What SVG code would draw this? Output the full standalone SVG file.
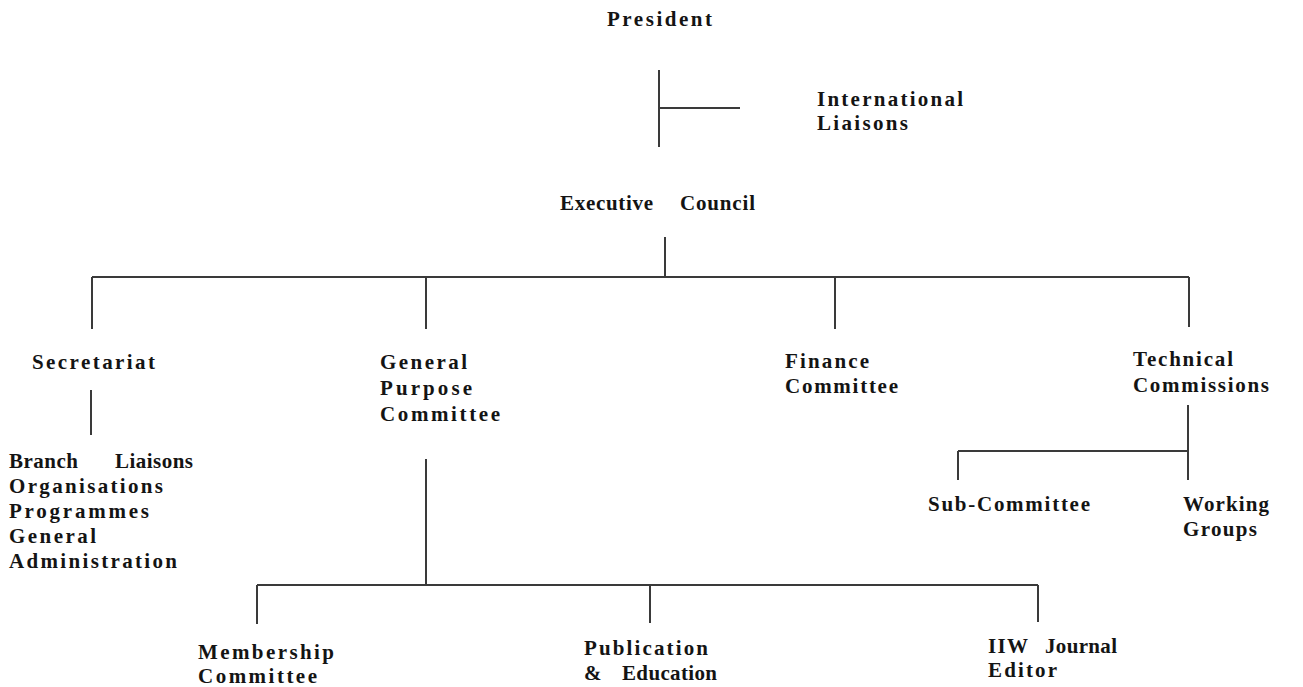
<svg xmlns="http://www.w3.org/2000/svg" width="1303" height="687" viewBox="0 0 1303 687">
<style>
text{font-family:'Liberation Serif','DejaVu Serif',serif;font-weight:700;font-size:21px;fill:#141414}
.b{font-size:21px}
#connectors line{stroke:#3a3a3a;stroke-width:2;fill:none}
</style>
<rect width="1303" height="687" fill="#ffffff"/>
<g id="connectors">
<line x1="659" y1="70" x2="659" y2="147"/>
<line x1="659" y1="108" x2="740" y2="108"/>
<line x1="665" y1="237" x2="665" y2="277"/>
<line x1="92" y1="277" x2="1189" y2="277"/>
<line x1="92" y1="277" x2="92" y2="329"/>
<line x1="426" y1="277" x2="426" y2="329"/>
<line x1="835" y1="277" x2="835" y2="329"/>
<line x1="1189" y1="277" x2="1189" y2="327"/>
<line x1="91" y1="390" x2="91" y2="435"/>
<line x1="426" y1="459" x2="426" y2="585"/>
<line x1="257" y1="585" x2="1038" y2="585"/>
<line x1="257" y1="585" x2="257" y2="624"/>
<line x1="650" y1="585" x2="650" y2="623"/>
<line x1="1038" y1="585" x2="1038" y2="622"/>
<line x1="1188" y1="405" x2="1188" y2="480"/>
<line x1="958" y1="451" x2="1188" y2="451"/>
<line x1="958" y1="451" x2="958" y2="480"/>
</g>
<g id="president"><text x="607" y="26" textLength="105" lengthAdjust="spacing">President</text></g>
<g id="international-liaisons">
<text x="817" y="106" textLength="146" lengthAdjust="spacing">International</text>
<text x="817" y="130" textLength="91" lengthAdjust="spacing">Liaisons</text>
</g>
<g id="executive-council"><text y="210"><tspan x="560" textLength="93" lengthAdjust="spacing">Executive</tspan><tspan x="680" textLength="75" lengthAdjust="spacing">Council</tspan></text></g>
<g id="secretariat"><text x="32" y="369" textLength="123" lengthAdjust="spacing">Secretariat</text></g>
<g id="secretariat-functions">
<text y="468"><tspan x="9" textLength="69" lengthAdjust="spacing">Branch</tspan><tspan x="115" textLength="78" lengthAdjust="spacing">Liaisons</tspan></text>
<text x="9" y="493" textLength="154" lengthAdjust="spacing">Organisations</text>
<text x="9" y="518" textLength="140" lengthAdjust="spacing">Programmes</text>
<text x="9" y="543" textLength="87" lengthAdjust="spacing">General</text>
<text x="9" y="568" textLength="168" lengthAdjust="spacing">Administration</text>
</g>
<g id="general-purpose-committee">
<text x="380" y="369" textLength="87" lengthAdjust="spacing">General</text>
<text x="380" y="395" textLength="92" lengthAdjust="spacing">Purpose</text>
<text x="380" y="421" textLength="120" lengthAdjust="spacing">Committee</text>
</g>
<g id="finance-committee">
<text x="785" y="368" textLength="84" lengthAdjust="spacing">Finance</text>
<text x="785" y="393" textLength="113" lengthAdjust="spacing">Committee</text>
</g>
<g id="technical-commissions">
<text x="1133" y="366" textLength="100" lengthAdjust="spacing">Technical</text>
<text x="1133" y="392" textLength="136" lengthAdjust="spacing">Commissions</text>
</g>
<g id="sub-committee"><text x="928" y="511" textLength="162" lengthAdjust="spacing">Sub-Committee</text></g>
<g id="working-groups">
<text x="1183" y="511" textLength="86" lengthAdjust="spacing">Working</text>
<text x="1183" y="536" textLength="74" lengthAdjust="spacing">Groups</text>
</g>
<g id="membership-committee">
<text class="b" x="198" y="659" textLength="136" lengthAdjust="spacing">Membership</text>
<text class="b" x="198" y="683" textLength="119" lengthAdjust="spacing">Committee</text>
</g>
<g id="publication-education">
<text class="b" x="584" y="655" textLength="124" lengthAdjust="spacing">Publication</text>
<text class="b" y="680"><tspan x="584">&amp;</tspan><tspan x="622" textLength="95" lengthAdjust="spacing">Education</tspan></text>
</g>
<g id="iiw-journal-editor">
<text class="b" y="653"><tspan x="988" textLength="40" lengthAdjust="spacing">IIW</tspan><tspan x="1045" textLength="72" lengthAdjust="spacing">Journal</tspan></text>
<text class="b" x="988" y="677" textLength="69" lengthAdjust="spacing">Editor</text>
</g>
</svg>
